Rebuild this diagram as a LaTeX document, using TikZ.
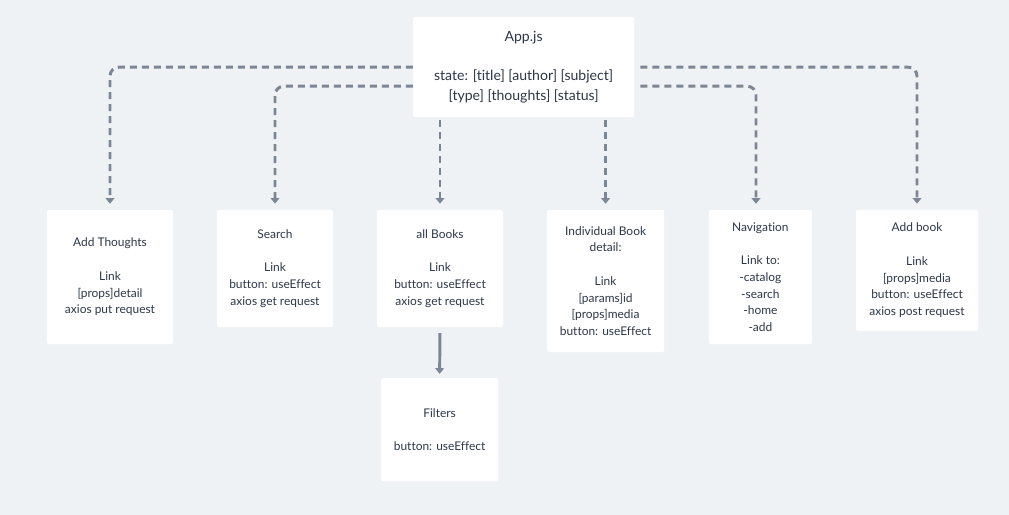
\documentclass[tikz,border=0pt]{standalone}
\usepackage{fontspec}
\setmainfont{Lato}[Ligatures=NoCommon]
\usepackage{xcolor}
\usetikzlibrary{calc,arrows.meta,positioning}
\definecolor{bgcol}{HTML}{EFF2F5}
\definecolor{linecol}{HTML}{7B8794}
\definecolor{txtcol}{HTML}{2D3748}
\begin{document}
\begin{tikzpicture}[
  box/.style={fill=white, rounded corners=1pt, align=center, text=txtcol, font=\fontsize{8.5}{11.9}\selectfont},
  link/.style={linecol, line width=2.1pt, dash pattern=on 1.75mm off 1.25mm, rounded corners=2.2mm, -{Triangle[width=2.2mm,length=1.4mm]}, shorten >=1.5mm},
  sub/.style={linecol, line width=2.1pt, -{Triangle[width=2.2mm,length=1.4mm]}, shorten <=1.5mm, shorten >=1mm}
]
\fill[bgcol] (0,0) rectangle (25.225,-12.875);
\node[box, minimum width=5.525cm, minimum height=2.5cm, font=\fontsize{10}{14}\selectfont] (app) at (13.09,-1.68) {App.js\\\\state: [title] [author] [subject]\\{}[type] [thoughts] [status]};
\node[box, minimum width=3.15cm, minimum height=3.35cm] (thoughts) at (2.75,-6.925) {Add Thoughts\\\\Link\\{}[props]detail\\axios put request};
\node[box, minimum width=2.9cm, minimum height=2.925cm] (search) at (6.875,-6.71) {Search\\\\Link\\button: useEffect\\axios get request};
\node[box, minimum width=3.15cm, minimum height=2.925cm] (books) at (11.0,-6.71) {all Books\\\\Link\\button: useEffect\\axios get request};
\node[box, minimum width=2.925cm, minimum height=3.55cm] (single) at (15.14,-7.025) {Individual Book\\detail:\\\\Link\\{}[params]id\\{}[props]media\\button: useEffect};
\node[box, minimum width=2.575cm, minimum height=3.35cm] (nav) at (19.01,-6.925) {Navigation\\\\Link to:\\-catalog\\-search\\-home\\-add};
\node[box, minimum width=3.05cm, minimum height=3.025cm] (addbook) at (22.925,-6.76) {Add book\\\\Link\\{}[props]media\\button: useEffect\\axios post request};
\node[box, minimum width=2.925cm, minimum height=2.575cm] (filters) at (10.99,-10.74) {Filters\\\\button: useEffect};
\draw[link] (app.west) -| (thoughts.north);
\draw[link] ([yshift=-0.475cm]app.west) -| (search.north);
\draw[link, shorten <=0.75mm] (books.north |- app.south) -- (books.north);
\draw[link, shorten <=0.75mm] (single.north |- app.south) -- (single.north);
\draw[link, shorten <=1.5mm] ([yshift=-0.475cm]app.east) -| ([xshift=-1.1mm]nav.north);
\draw[link, shorten <=1.5mm] (app.east) -| (addbook.north);
\draw[sub] (books.south) -- (filters.north);
\end{tikzpicture}
\end{document}
